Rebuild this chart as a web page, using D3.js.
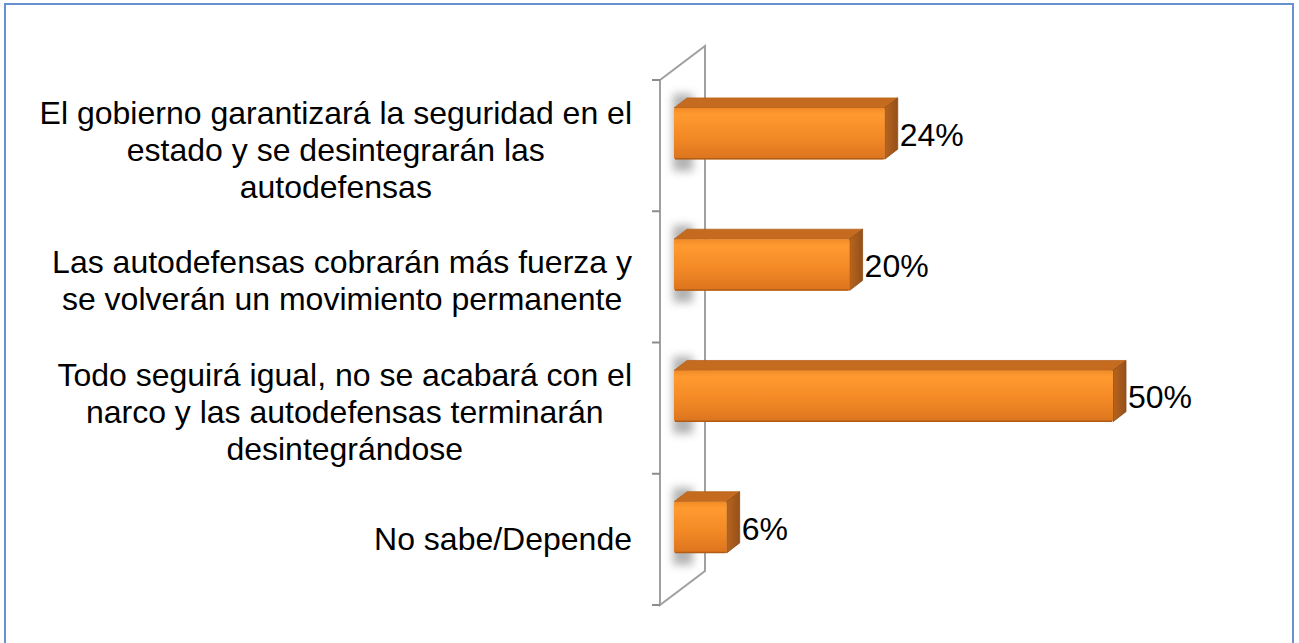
<!DOCTYPE html>
<html>
<head>
<meta charset="utf-8">
<script src="https://cdn.jsdelivr.net/npm/d3@7/dist/d3.min.js"></script>
<style>
  html, body { margin: 0; padding: 0; background: #fff; }
  svg { display: block; }
  text { font-family: "Liberation Sans", Arial, sans-serif; fill: #000; }
</style>
</head>
<body>
<svg id="chart" width="1299" height="643"></svg>
<script>
// ---- data ----
const categories = [
  "El gobierno garantizará la seguridad en el estado y se desintegrarán las autodefensas",
  "Las autodefensas cobrarán más fuerza y se volverán un movimiento permanente",
  "Todo seguirá igual, no se acabará con el narco y las autodefensas terminarán desintegrándose",
  "No sabe/Depende"
];
const categoryLines = [
  ["El gobierno garantizará la seguridad en el", "estado y se desintegrarán las", "autodefensas"],
  ["Las autodefensas cobrarán más fuerza y", "se volverán un movimiento permanente"],
  ["Todo seguirá igual, no se acabará con el", "narco y las autodefensas terminarán", "desintegrándose"],
  ["No sabe/Depende"]
];
const values = [24, 20, 50, 6];
const valueLabels = ["24%", "20%", "50%", "6%"];

// ---- layout ----
const svg = d3.select("#chart");
const W = 1299, H = 643;
const fontSize = 32, lineH = 37;
const depthX = 45, depthY = -34;      // wall depth
const barDX = 13, barDY = -10;        // bar 3D depth
const wallX = 660, wallTop = 80, wallBottom = 605;
const barX0 = 674;

const x = d3.scaleLinear().domain([0, 50]).range([barX0, 1113]);
const y = d3.scaleBand().domain(categories).range([wallTop, wallBottom]).padding(0);
const barOff = 0.213, barFrac = 0.39;

const defs = svg.append("defs");
const gFront = defs.append("linearGradient").attr("id", "gFront").attr("x1", 0).attr("y1", 0).attr("x2", 0).attr("y2", 1);
gFront.append("stop").attr("offset", "0%").attr("stop-color", "#f08a26");
gFront.append("stop").attr("offset", "12%").attr("stop-color", "#ff9a30");
gFront.append("stop").attr("offset", "55%").attr("stop-color", "#f48a26");
gFront.append("stop").attr("offset", "100%").attr("stop-color", "#dc741e");
const gSide = defs.append("linearGradient").attr("id", "gSide").attr("x1", 0).attr("y1", 0).attr("x2", 1).attr("y2", 0);
gSide.append("stop").attr("offset", "0%").attr("stop-color", "#b9651c");
gSide.append("stop").attr("offset", "100%").attr("stop-color", "#94501a");
const blur = defs.append("filter").attr("id", "blur").attr("x", "-50%").attr("y", "-50%").attr("width", "200%").attr("height", "200%");
blur.append("feGaussianBlur").attr("stdDeviation", 4);

// border
svg.append("rect")
  .attr("x", 5).attr("y", 4).attr("width", 1288).attr("height", 660)
  .attr("fill", "none").attr("stroke", "#6791cf").attr("stroke-width", 2);

// wall
const wall = svg.append("g").attr("fill", "none").attr("stroke", "#a0a0a0").attr("stroke-width", 2);
wall.append("path").attr("d",
  `M${wallX},${wallTop} L${wallX + depthX},${wallTop + depthY} L${wallX + depthX},${wallBottom + depthY} L${wallX},${wallBottom} Z`);
// ticks
const tickYs = categories.map(c => y(c)).concat([wallBottom]);
wall.selectAll("line.tick").data(tickYs).join("line")
  .attr("x1", wallX - 8).attr("x2", wallX).attr("y1", d => d).attr("y2", d => d)
  .attr("stroke", "#8c8c8c");

// bars
const bars = svg.append("g");
categories.forEach((c, i) => {
  const by = y(c) + y.bandwidth() * barOff;
  const bh = y.bandwidth() * barFrac;
  const x0 = x(0), x1 = x(values[i]);
  const g = bars.append("g");
  // shadow on wall
  g.append("rect")
    .attr("x", x0 - 1).attr("y", by - 14).attr("width", 20).attr("height", bh + 26)
    .attr("fill", "#9a9a9a").attr("opacity", 0.75).attr("filter", "url(#blur)");
  // top face
  g.append("path")
    .attr("d", `M${x0},${by} L${x0 + barDX},${by + barDY} L${x1 + barDX},${by + barDY} L${x1},${by} Z`)
    .attr("fill", "#c46b1f").attr("stroke", "#b8621b").attr("stroke-width", 0.8).attr("stroke-linejoin", "round");
  // side face
  g.append("path")
    .attr("d", `M${x1},${by} L${x1 + barDX},${by + barDY} L${x1 + barDX},${by + bh + barDY} L${x1},${by + bh} Z`)
    .attr("fill", "url(#gSide)").attr("stroke", "#8e4c16").attr("stroke-width", 0.8).attr("stroke-linejoin", "round");
  // front face
  g.append("rect")
    .attr("x", x0).attr("y", by).attr("width", x1 - x0).attr("height", bh)
    .attr("rx", 2).attr("fill", "url(#gFront)");
  g.append("line")
    .attr("x1", x0 + 1).attr("x2", x1 - 1).attr("y1", by + bh - 0.5).attr("y2", by + bh - 0.5)
    .attr("stroke", "#b05c16").attr("stroke-width", 1.5);
  // value label
  svg.append("text")
    .attr("x", x1 + barDX + 2).attr("y", by + 38)
    .attr("font-size", fontSize).text(valueLabels[i]);
});

// category labels
const labelRight = 632;
categories.forEach((c, i) => {
  const lines = categoryLines[i];
  const n = lines.length;
  const center = y(c) + y.bandwidth() / 2;
  const g = svg.append("g");
  const texts = g.selectAll("text").data(lines).join("text")
    .attr("font-size", fontSize).attr("text-anchor", "middle")
    .text(d => d);
  let maxW = 0;
  texts.each(function () { maxW = Math.max(maxW, this.getComputedTextLength()); });
  const cx = labelRight - maxW / 2;
  const first = center - (n - 1) * lineH / 2 + 11 + (n > 1 ? 4 : 0);
  texts.attr("x", cx).attr("y", (d, j) => first + j * lineH);
});
</script>
</body>
</html>
